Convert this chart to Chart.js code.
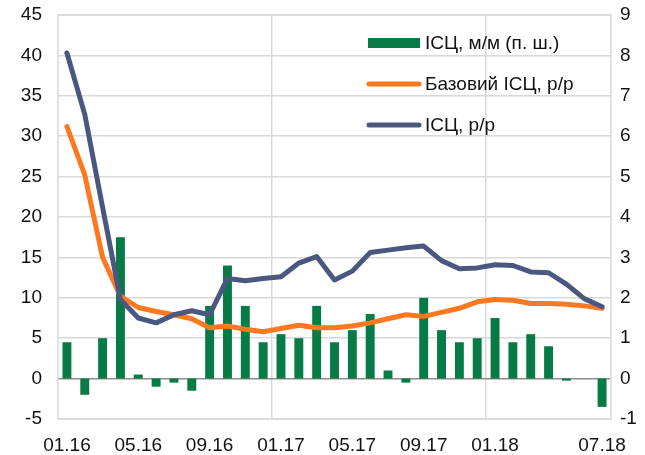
<!DOCTYPE html>
<html>
<head>
<meta charset="utf-8">
<script src="https://cdn.jsdelivr.net/npm/chart.js@4/dist/chart.umd.min.js"></script>
<style>
  html, body { margin: 0; padding: 0; background: #fff; }
  #wrap { width: 645px; height: 455px; }
</style>
</head>
<body>
<div id="wrap"><canvas id="cpi" width="645" height="455"></canvas></div>
<script>
// Monthly CPI chart: m/m bars on the right scale, y/y lines on the left

const months = [
  '01.16', '02.16', '03.16', '04.16', '05.16', '06.16', '07.16', '08.16', '09.16', '10.16', '11.16', '12.16',
  '01.17', '02.17', '03.17', '04.17', '05.17', '06.17', '07.17', '08.17', '09.17', '10.17', '11.17', '12.17',
  '01.18', '02.18', '03.18', '04.18', '05.18', '06.18', '07.18'
];
const shownMonths = ['01.16', '05.16', '09.16', '01.17', '05.17', '09.17', '01.18', '07.18'];
const yearStarts = ['01.17', '01.18'];

const cpiMoM = [0.9, -0.4, 1.0, 3.5, 0.1, -0.2, -0.1, -0.3, 1.8, 2.8, 1.8, 0.9,
                1.1, 1.0, 1.8, 0.9, 1.2, 1.6, 0.2, -0.1, 2.0, 1.2, 0.9, 1.0,
                1.5, 0.9, 1.1, 0.8, -0.05, 0.0, -0.7];
const coreYoY = [31.2, 25.2, 15.0, 10.2, 8.8, 8.3, 7.9, 7.4, 6.3, 6.5, 6.1, 5.8,
                 6.2, 6.6, 6.3, 6.3, 6.5, 6.9, 7.4, 7.9, 7.7, 8.2, 8.7, 9.5,
                 9.8, 9.7, 9.3, 9.3, 9.2, 9.0, 8.7];
const cpiYoY = [40.3, 32.7, 21.2, 9.8, 7.5, 6.9, 7.9, 8.4, 7.9, 12.4, 12.1, 12.4,
                12.6, 14.3, 15.1, 12.2, 13.3, 15.6, 15.9, 16.2, 16.4, 14.6, 13.6, 13.7,
                14.1, 14.0, 13.2, 13.1, 11.7, 9.9, 8.9];

const seriesNames = ['ІСЦ, м/м (п. ш.)', 'Базовий ІСЦ, р/р', 'ІСЦ, р/р'];

const GREEN = '#077a46';
const ORANGE = '#fd781e';
const NAVY = '#4a5880';
const GRID = '#d9d9d9';
const FONT = { family: '"Liberation Sans", Arial, sans-serif', size: 19 };

// plot frame + legend drawn inside the plot area
const framePlugin = {
  id: 'frame',
  beforeDatasetsDraw(chart) {
    const a = chart.chartArea;
    const c = chart.ctx;
    c.save();
    c.strokeStyle = GRID;
    c.lineWidth = 1.5;
    c.strokeRect(a.left, a.top, a.right - a.left, a.bottom - a.top);
    c.restore();
  },
  afterDraw(chart) {
    const a = chart.chartArea;
    const c = chart.ctx;
    const x0 = a.left + 310;
    const colors = [GREEN, ORANGE, NAVY];
    c.save();
    c.font = FONT.size + 'px ' + FONT.family;
    c.textBaseline = 'middle';
    seriesNames.forEach((name, i) => {
      const y = a.top + 28 + i * 41;
      if (i === 0) {
        c.fillStyle = colors[i];
        c.fillRect(x0, y - 5, 52, 10);
      } else {
        c.strokeStyle = colors[i];
        c.lineWidth = 5;
        c.lineCap = 'round';
        c.beginPath();
        c.moveTo(x0 + 1, y);
        c.lineTo(x0 + 51, y);
        c.stroke();
      }
      c.fillStyle = '#111';
      c.fillText(name, x0 + 57, y + 1);
    });
    c.restore();
  }
};

// fixed axis sizes so the plot area sits where the original one does
function fixV(width) {
  return (s) => {
    s.width = width;
    s.paddingTop = 0;
    s.paddingBottom = 0;
  };
}

new Chart(document.getElementById('cpi').getContext('2d'), {
  type: 'bar',
  data: {
    labels: months,
    datasets: [
      {
        type: 'line',
        label: seriesNames[2],
        data: cpiYoY,
        yAxisID: 'y',
        borderColor: NAVY,
        borderWidth: 5,
        pointRadius: 0,
        tension: 0,
        borderJoinStyle: 'round',
        borderCapStyle: 'round',
        order: 0,
      },
      {
        type: 'line',
        label: seriesNames[1],
        data: coreYoY,
        yAxisID: 'y',
        borderColor: ORANGE,
        borderWidth: 5,
        pointRadius: 0,
        tension: 0,
        borderJoinStyle: 'round',
        borderCapStyle: 'round',
        order: 1,
      },
      {
        type: 'bar',
        label: seriesNames[0],
        data: cpiMoM,
        yAxisID: 'y1',
        backgroundColor: GREEN,
        barPercentage: 0.5,
        categoryPercentage: 1.0,
        order: 2,
      },
    ],
  },
  options: {
    animation: false,
    responsive: false,
    layout: { padding: { top: 15, left: 0, right: 0, bottom: 0 } },
    plugins: { legend: { display: false }, tooltip: { enabled: false } },
    scales: {
      x: {
        offset: true,
        border: { display: false },
        grid: {
          offset: true,
          drawTicks: false,
          lineWidth: 1.5,
          color: (ctx) => (ctx.tick && yearStarts.includes(months[ctx.index]) ? GRID : 'rgba(0,0,0,0)'),
        },
        ticks: {
          autoSkip: false,
          maxRotation: 0,
          padding: 15,
          color: '#111',
          font: FONT,
          callback: (v, i) => (shownMonths.includes(months[i]) ? months[i] : ''),
        },
        afterFit: (s) => {
          s.height = 36;
          s.paddingLeft = 0;
          s.paddingRight = 0;
        },
      },
      y: {
        position: 'left',
        min: -5,
        max: 45,
        border: { display: false },
        grid: {
          drawTicks: false,
          lineWidth: 1.5,
          color: (ctx) => (ctx.tick && ctx.tick.value === 0 ? '#8c8c8c' : GRID),
        },
        ticks: { stepSize: 5, padding: 16, color: '#111', font: FONT },
        afterFit: fixV(58),
      },
      y1: {
        position: 'right',
        min: -1,
        max: 9,
        border: { display: false },
        grid: { display: false, drawTicks: false },
        ticks: { stepSize: 1, padding: 9, color: '#111', font: FONT },
        afterFit: fixV(34),
      },
    },
  },
  plugins: [framePlugin],
});
</script>
</body>
</html>
